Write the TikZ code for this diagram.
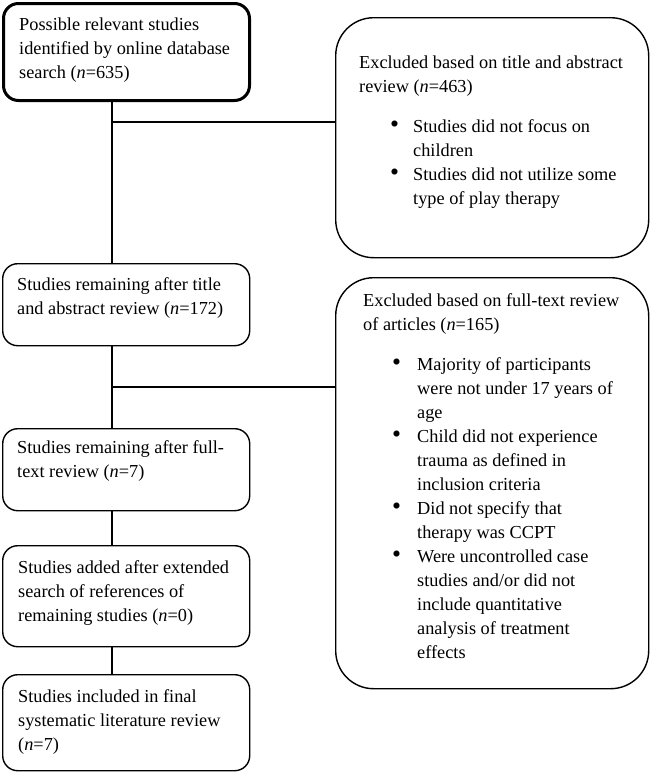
\documentclass[tikz,border=0pt]{standalone}
\usepackage{fontspec}
\usepackage{graphicx}
\setmainfont{Liberation Serif}
\newcommand{\bigbul}{\scalebox{1.4}{\textbullet}}
\begin{document}
\begin{tikzpicture}[x=1pt,y=-1pt,
  box/.style={draw=black, line width=1.4pt, rounded corners=15pt, inner sep=0pt, anchor=north west},
  thickbox/.style={box, line width=3pt},
  bigbox/.style={box, rounded corners=38pt},
  txt/.style={anchor=base west, inner sep=0pt, font=\fontsize{18.3}{24}\selectfont},
  link/.style={draw=black, line width=2.6pt}]
\useasboundingbox (0,0) rectangle (649,772);
% boxes
\node[thickbox, minimum width=246pt, minimum height=97pt] (b1) at (2,2) {};
\node[bigbox, minimum width=313pt, minimum height=240pt] (b2) at (335,17) {};
\node[box, minimum width=247pt, minimum height=82pt] (b3) at (2,263) {};
\node[bigbox, minimum width=313pt, minimum height=411pt] (b4) at (335,277) {};
\node[box, minimum width=247pt, minimum height=82pt] (b5) at (2,428) {};
\node[box, minimum width=247pt, minimum height=101pt] (b6) at (2,545) {};
\node[box, minimum width=247pt, minimum height=96pt] (b7) at (2,674) {};
% texts
\node[txt] (t1) at (19,30) {\parbox[t]{240pt}{Possible relevant studies\\identified by online database\\search (\textit{n}=635)}};
\node[txt] (t2) at (359,68) {\parbox[t]{290pt}{Excluded based on title and abstract\\review (\textit{n}=463)\\[16pt]
\hspace*{31pt}\makebox[23pt][l]{\bigbul}Studies did not focus on\\
\hspace*{54pt}children\\
\hspace*{31pt}\makebox[23pt][l]{\bigbul}Studies did not utilize some\\
\hspace*{54pt}type of play therapy}};
\node[txt] (t3) at (17,290) {\parbox[t]{240pt}{Studies remaining after title\\and abstract review (\textit{n}=172)}};
\node[txt] (t4) at (363,306) {\parbox[t]{290pt}{Excluded based on full-text review\\of articles (\textit{n}=165)\\[16pt]
\hspace*{29pt}\makebox[25pt][l]{\bigbul}Majority of participants\\
\hspace*{54pt}were not under 17 years of\\
\hspace*{54pt}age\\
\hspace*{29pt}\makebox[25pt][l]{\bigbul}Child did not experience\\
\hspace*{54pt}trauma as defined in\\
\hspace*{54pt}inclusion criteria\\
\hspace*{29pt}\makebox[25pt][l]{\bigbul}Did not specify that\\
\hspace*{54pt}therapy was CCPT\\
\hspace*{29pt}\makebox[25pt][l]{\bigbul}Were uncontrolled case\\
\hspace*{54pt}studies and/or did not\\
\hspace*{54pt}include quantitative\\
\hspace*{54pt}analysis of treatment\\
\hspace*{54pt}effects}};
\node[txt] (t5) at (17,453) {\parbox[t]{240pt}{Studies remaining after full-\\text review (\textit{n}=7)}};
\node[txt] (t6) at (18,573) {\parbox[t]{240pt}{Studies added after extended\\search of references of\\remaining studies (\textit{n}=0)}};
\node[txt] (t7) at (18,702) {\parbox[t]{240pt}{Studies included in final\\systematic literature review\\(\textit{n}=7)}};
% connectors
\coordinate (vx) at (112,0);
\coordinate (j1) at (112,122);
\coordinate (j2) at (112,387);
\draw[link] (b1.south -| vx) -- (b3.north -| vx);
\draw[link] (j1) -- (j1 -| b2.west);
\draw[link] (b3.south -| vx) -- (b5.north -| vx);
\draw[link] (j2) -- (j2 -| b4.west);
\draw[link] (b5.south -| vx) -- (b6.north -| vx);
\draw[link] (b6.south -| vx) -- (b7.north -| vx);
\end{tikzpicture}
\end{document}
